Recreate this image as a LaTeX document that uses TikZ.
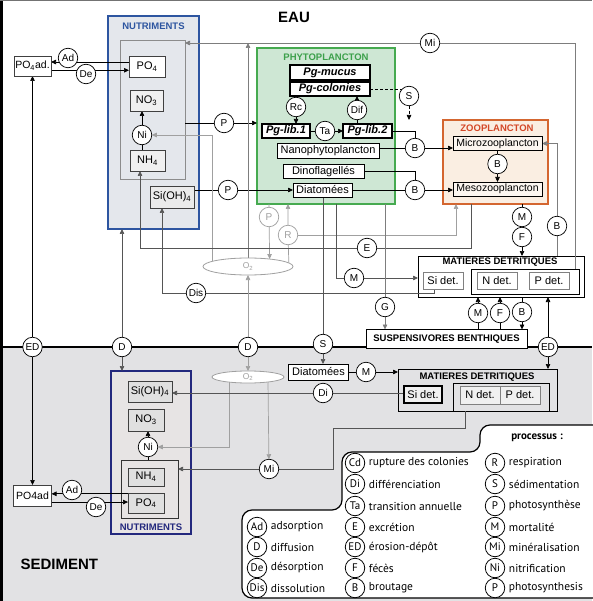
\documentclass[tikz,border=0pt]{standalone}
\usepackage{fontspec}
\setmainfont{Liberation Sans}
\newfontfamily\legfont{PT Sans}
\usepackage{xcolor}
\usepackage{tikz}
\usetikzlibrary{
    shapes.geometric,
    arrows.meta,
    positioning
}
\pgfdeclarelayer{back}
\pgfdeclarelayer{lines}
\pgfsetlayers{back,lines,main}
\definecolor{nutblue}{RGB}{45,85,160}
\definecolor{nutfill}{RGB}{228,231,236}
\definecolor{phygreen}{RGB}{70,170,80}
\definecolor{phyfill}{RGB}{206,231,212}
\definecolor{phytext}{RGB}{60,160,75}
\definecolor{zooorange}{RGB}{212,102,48}
\definecolor{zoofill}{RGB}{250,238,226}
\definecolor{zootext}{RGB}{212,72,40}
\definecolor{sedfill}{RGB}{226,226,228}
\definecolor{sednavy}{RGB}{35,40,125}
\definecolor{sednutfill}{RGB}{231,228,228}
\definecolor{lightline}{RGB}{160,160,160}
\definecolor{midline}{RGB}{125,125,125}
\definecolor{darkline}{RGB}{85,85,85}
\tikzstyle{box} = [
    rectangle, draw=black!75,
    fill=white,
    line width=0.7pt,
    inner sep=0pt,
    outer sep=0pt,
    text centered
]
\tikzstyle{pgbox} = [
    box, draw=black,
    line width=1.2pt,
    font=\fontsize{11}{12}\selectfont\bfseries\itshape
]
\tikzstyle{proc} = [
    circle, draw=black,
    fill=white,
    line width=0.7pt,
    minimum size=19.5pt,
    inner sep=0pt,
    outer sep=0pt,
    font=\fontsize{10}{11}\selectfont
]
\tikzstyle{lightproc} = [
    proc,
    draw=lightline,
    text=lightline
]
\tikzstyle{legproc} = [
    proc,
    line width=0.8pt,
    font=\legfont\fontsize{11}{12}\selectfont
]
\tikzstyle{legtext} = [
    inner sep=0pt,
    font=\legfont\fontsize{11.5}{12}\selectfont
]
\tikzstyle{legitem} = [
    legtext,
    xshift=4pt
]
\tikzstyle{heading} = [
    inner sep=0pt,
    font=\fontsize{9.5}{10}\selectfont\bfseries
]
\tikzstyle{oxy} = [
    ellipse, draw=lightline,
    fill=white,
    line width=0.8pt,
    inner sep=0pt,
    outer sep=0pt,
    text=lightline,
    font=\fontsize{8.5}{9}\selectfont
]
\tikzstyle{arrow} = [
    line width=0.7pt,
    -{Triangle[length=5pt,width=4.5pt]}
]
\tikzstyle{grayarrow} = [arrow, draw=midline]
\tikzstyle{lightarrow} = [arrow, draw=lightline]
\tikzstyle{darkarrow} = [arrow, draw=darkline]

\begin{document}
\begin{tikzpicture}[x=1pt, y=-1pt, font=\fontsize{11}{12}\selectfont]
    \useasboundingbox (0,0) rectangle (592,601);
    \begin{pgfonlayer}{back}
    \fill[white] (0,0) rectangle (592,347);
    \fill[sedfill] (0,347) rectangle (592,601);
    \draw[line width=2.2pt] (0,347) -- (592,347);
    \draw[line width=3pt] (1.5,0) -- (1.5,601);
    \draw[black!55, line width=1.2pt] (0,0.6) -- (592,0.6);
    \node[box, draw=nutblue, fill=nutfill, line width=1.3pt, minimum width=91, minimum height=213] (nutw) at (153.5,122.5) {};
    \node[box, draw=black!45, fill=nutfill, minimum width=65, minimum height=139] (nutin) at (152.5,109.5) {};
    \node[box, draw=phygreen, fill=phyfill, line width=1.3pt, minimum width=138, minimum height=156] (phyto) at (326,126) {};
    \node[box, draw=zooorange, fill=zoofill, line width=1.3pt, minimum width=105, minimum height=84] (zoo) at (495.5,162) {};
    \node[box, draw=black, line width=1pt, minimum width=166, minimum height=41] (md) at (501,276.5) {};
    \node[box, draw=black, line width=1pt, minimum width=108, minimum height=25] (npbox) at (525,281.5) {};
    \node[box, draw=sednavy, fill=sednutfill, line width=1.3pt, minimum width=80, minimum height=163] (nuts) at (151,452.5) {};
    \node[box, draw=black!80, fill=sednutfill, line width=1pt, minimum width=57, minimum height=58] (nhpo) at (149.5,489) {};
    \node[box, draw=black, fill=sedfill, line width=1pt, minimum width=159, minimum height=42] (mds) at (477.5,390) {};
    \node[box, draw=black, fill=sedfill, line width=1pt, minimum width=96, minimum height=28] (npboxs) at (501,397) {};
    \end{pgfonlayer}

    \node[font=\fontsize{15}{16}\selectfont\bfseries] (eau) at (294,17) {EAU};
    \node[font=\fontsize{15}{16}\selectfont\bfseries, anchor=west] (sed) at (17,564) {SEDIMENT};

    \node[heading, text=nutblue] (nutwtitle) at (153.5,26.5) {NUTRIMENTS};
    \node[box, minimum width=36, minimum height=21] (po4w) at (147,66.5) {PO\textsubscript{4}};
    \node[box, fill=black!6, minimum width=33, minimum height=21] (no3w) at (146.5,100.5) {NO\textsubscript{3}};
    \node[proc] (niw) at (142,135) {Ni};
    \node[box, fill=black!6, minimum width=35, minimum height=21] (nh4w) at (147.5,160.5) {NH\textsubscript{4}};
    \node[box, fill=black!8, minimum width=44, minimum height=22] (sihw) at (172,197) {Si(OH)\textsubscript{4}};
    \node[box, font=\fontsize{10.5}{11}\selectfont, minimum width=37, minimum height=20] (po4adw) at (32.5,66) {PO\textsubscript{4}ad.};
    \node[proc] (adw) at (68,58) {Ad};
    \node[proc] (dew) at (86,74) {De};
    \node[proc] (pnh) at (224,123) {P};
    \node[proc] (psi) at (228,190) {P};

    \node[heading, text=phytext] (phytotitle) at (326,57) {PHYTOPLANCTON};
    \node[pgbox, minimum width=80, minimum height=15] (mucus) at (330,72.5) {Pg-mucus};
    \node[pgbox, minimum width=80, minimum height=14] (colonies) at (330,89) {Pg-colonies};
    \node[proc] (rc) at (296,107) {Rc};
    \node[proc] (dif) at (357,110) {Dif};
    \node[pgbox, minimum width=48, minimum height=14] (pglib1) at (286,131) {Pg-lib.1};
    \node[proc] (ta) at (325,131) {Ta};
    \node[pgbox, minimum width=49, minimum height=14] (pglib2) at (367.5,131) {Pg-lib.2};
    \node[box, draw=black, line width=0.9pt, minimum width=102, minimum height=15] (nano) at (328,151) {Nanophytoplancton};
    \node[box, draw=black, line width=0.9pt, minimum width=81, minimum height=14] (dino) at (323.5,171.5) {Dinoflagellés};
    \node[box, draw=black, line width=0.9pt, minimum width=59, minimum height=14] (diat) at (322.5,190) {Diatomées};
    \node[proc] (s1) at (409,96) {S};
    \coordinate (sfall) at (409,120);
    \node[proc] (bnano) at (415,148) {B};
    \node[proc] (bdiat) at (415,190) {B};

    \node[heading, text=zootext] (zootitle) at (497,128.5) {ZOOPLANCTON};
    \node[box, draw=black, line width=0.9pt, fill=zoofill!50, font=\fontsize{10.5}{11}\selectfont, minimum width=89, minimum height=14] (micro) at (497.5,143.5) {Microzooplancton};
    \node[proc] (bzoo) at (497.5,164) {B};
    \node[box, draw=black, line width=0.9pt, fill=zoofill!50, font=\fontsize{10.5}{11}\selectfont, minimum width=89, minimum height=14] (meso) at (497.5,189) {Mesozooplancton};
    \node[proc] (mzoo) at (522,217) {M};
    \node[proc] (fzoo) at (522,237) {F};
    \node[proc] (bmicro) at (557,226) {B};
    \node[proc] (mi1) at (430,43) {Mi};

    \node[oxy, minimum width=90, minimum height=17] (o2w) at (248,266.5) {O\textsubscript{2}};
    \node[lightproc] (pgray) at (269,217) {P};
    \node[lightproc] (rgray) at (288,235) {R};
    \node[proc] (e1) at (367,248) {E};
    \node[proc] (m3) at (354,278) {M};
    \node[proc] (g1) at (385,307) {G};
    \node[proc] (dis) at (196,293) {Dis};

    \node[heading] (mdtitle) at (500,262.5) {MATIERES DETRITIQUES};
    \node[box, draw=black!50, minimum width=40, minimum height=17] (sidet) at (443,281) {Si det.};
    \node[box, draw=black!50, minimum width=40, minimum height=17] (ndet) at (497,281) {N det.};
    \node[box, draw=black!50, minimum width=40, minimum height=17] (pdet) at (549,281) {P det.};
    \node[box, draw=black, line width=1pt, font=\fontsize{9.5}{10}\selectfont\bfseries, minimum width=161, minimum height=19] (susp) at (446.5,339) {SUSPENSIVORES BENTHIQUES};
    \node[proc] (msusp) at (478,313) {M};
    \node[proc] (fsusp) at (500,313) {F};
    \node[proc] (bsusp) at (522,312) {B};

    \node[proc] (ed1) at (32.5,347) {ED};
    \node[proc] (d1) at (122,347) {D};
    \node[proc] (d2) at (248,347) {D};
    \node[proc] (s2) at (323,344) {S};
    \node[proc] (ed2) at (548,347) {ED};

    \node[box, font=\fontsize{10.5}{11}\selectfont, minimum width=38, minimum height=21] (po4ads) at (32.5,495.5) {PO4ad};
    \node[proc] (ads) at (72,490) {Ad};
    \node[proc] (des) at (96,507) {De};
    \node[heading, text=sednavy] (nutstitle) at (151,527) {NUTRIMENTS};
    \node[box, fill=black!12, minimum width=44, minimum height=21] (sihs) at (150,391.5) {Si(OH)\textsubscript{4}};
    \node[box, fill=black!12, minimum width=36, minimum height=22] (no3s) at (146,420) {NO\textsubscript{3}};
    \node[proc] (nis) at (148,447) {Ni};
    \node[box, fill=black!12, minimum width=36, minimum height=18] (nh4s) at (146,477) {NH\textsubscript{4}};
    \node[box, fill=black!12, minimum width=36, minimum height=20] (po4s) at (146,503) {PO\textsubscript{4}};
    \node[oxy, minimum width=72, minimum height=12] (o2s) at (248,377) {O\textsubscript{2}};
    \node[proc] (mis) at (269,469) {Mi};
    \coordinate (mibend) at (333,428);
    \node[proc] (di) at (323,393) {Di};
    \node[box, draw=black, line width=0.9pt, minimum width=60, minimum height=16] (diats) at (318.5,372) {Diatomées};
    \node[proc] (msed) at (366,372) {M};
    \node[heading] (mdstitle) at (477,377.5) {MATIERES DETRITIQUES};
    \node[box, draw=black, line width=1.2pt, fill=black!6, minimum width=38, minimum height=17] (sidets) at (423,394.5) {Si det.};
    \node[box, draw=black!50, fill=black!6, minimum width=40, minimum height=18] (ndets) at (480,395) {N det.};
    \node[box, draw=black!50, fill=black!6, minimum width=40, minimum height=18] (pdets) at (520,395) {P det.};

    \begin{pgfonlayer}{lines}
    \draw[arrow] (po4w.166) -- (po4w.166 -| po4adw.east);
    \draw[arrow] (po4adw.347.8) -- (po4adw.347.8 -| po4w.west);
    \draw (nh4w.north -| niw) -- (niw);
    \draw[arrow] (niw) -- (no3w.south -| niw);
    \draw[arrow] (nutin.east |- pnh) -- (pnh) -- (phyto.west |- pnh);
    \draw[arrow] (sihw.east |- psi) -- (psi) -- (diat.west |- psi);
    \draw[arrow] (colonies.south -| rc) -- (rc) -- (pglib1.north -| rc);
    \draw[arrow] (pglib2.north -| dif) -- (dif) -- (colonies.south -| dif);
    \draw[arrow] (pglib1) -- (ta) -- (pglib2);
    \draw[dash pattern=on 3pt off 2pt] (colonies.east) -- (colonies.east -| s1);
    \draw[dash pattern=on 3pt off 2pt, arrow] (s1) -- (sfall);
    \draw (pglib2.east) -| (bnano);
    \draw[arrow] (nano.east |- bnano) -- (bnano) -- (micro.west |- bnano);
    \draw (dino.east) -| (bdiat);
    \draw[arrow] (diat) -- (bdiat) -- (meso.west |- bdiat);
    \draw[arrow] (micro) -- (bzoo) -- (meso);
    \draw[arrow] (zoo.south -| mzoo) -- (mzoo) -- (fzoo) -- (md.north -| fzoo);
    \draw[grayarrow] (md.north -| bmicro) -- (bmicro) |- (micro.east);
    \draw[grayarrow] ([xshift=-4pt]npbox.north east) |- (mi1) -- (mi1 -| nutin.east);
    \draw[grayarrow] (o2w.north) -- (o2w.north |- mi1);
    \draw[lightarrow] (o2w.172.5) |- (niw);
    \draw[lightarrow] ([xshift=-57pt]phyto.south) -- (pgray) -- (o2w.19.7);
    \draw[lightarrow] (o2w.5.6) -- (rgray) -- (rgray |- phyto.south);
    \draw[lightarrow] (rgray) -| ([xshift=-39.5pt]zoo.south);
    \draw[darkarrow] ([xshift=-24.5pt]zoo.south) |- (e1) -| ([xshift=-7.5pt]nh4w.south);
    \draw[darkarrow] ([xshift=10pt]phyto.south) |- (m3) -- (md.west |- m3);
    \draw[grayarrow] ([xshift=59pt]phyto.south) -- (g1) -- (susp.north -| g1);
    \draw[darkarrow] ([xshift=-9pt]sidet.south) |- (dis) -| ([xshift=-10pt]sihw.south);
    \draw[arrow] (susp.north -| msusp) -- (msusp) -- (md.south -| msusp);
    \draw[arrow] (susp.north -| fsusp) -- (fsusp) -- (md.south -| fsusp);
    \draw[arrow] (md.south -| bsusp) -- (bsusp) -- (susp.north -| bsusp);
    \draw[arrow] (ed1) -- (po4adw);
    \draw[arrow] (ed1) -- (po4ads);
    \draw[darkarrow] (d1) -- (d1 |- nutw.south);
    \draw[darkarrow] (d1) -- (d1 |- nuts.north);
    \draw[lightarrow] (d2) -- (o2w);
    \draw[lightarrow] (d2) -- (o2s);
    \draw[darkarrow] (diat.south -| s2) -- (s2) -- (diats.north -| s2);
    \draw[arrow] (ed2) -- (md.south -| ed2);
    \draw[arrow] (ed2) -- (mds.north -| ed2);
    \draw[arrow] (po4s.153.4) -- (po4s.153.4 -| po4ads.east);
    \draw[arrow] (po4ads.341.1) -- (po4ads.341.1 -| po4s.west);
    \draw (nhpo.north -| nis) -- (nis);
    \draw[arrow] (nis) -- (no3s.south -| nis);
    \draw[lightarrow] (o2s.195) |- (nis);
    \draw[lightarrow] (o2s.346.9) -- (mis);
    \draw[darkarrow] ([xshift=-36pt]npboxs.south) |- (mibend) |- (mis) -- (mis -| nhpo.east);
    \draw[darkarrow] (sidets.west |- di) -- (di) -- (sihs.east |- di);
    \draw[arrow] (diats) -- (msed) -- (mds.west |- msed);
    \end{pgfonlayer}

    \draw[line width=1.2pt, fill=white, rounded corners=10pt] (600,425) -- (480,425) -- (480,452) -- (342,452) -- (342,510) -- (242,510) -- (242,598) -- (600,598);
    \node[legtext, font=\legfont\bfseries\fontsize{11}{12}\selectfont] (legtitle) at (537,438) {processus :};
    \node[legproc, label={[legitem]right:adsorption}] (lgad) at (257,527) {Ad};
    \node[legproc, label={[legitem]right:diffusion}] (lgd) at (257,547) {D};
    \node[legproc, label={[legitem]right:désorption}] (lgde) at (257,568) {De};
    \node[legproc, label={[legitem]right:dissolution}] (lgdis) at (257,588) {Dis};
    \node[legproc, label={[legitem]right:rupture des colonies}] (lgcd) at (355,463) {Cd};
    \node[legproc, label={[legitem]right:différenciation}] (lgdi) at (355,484) {Di};
    \node[legproc, label={[legitem]right:transition annuelle}] (lgta) at (355,506) {Ta};
    \node[legproc, label={[legitem]right:excrétion}] (lge) at (355,527) {E};
    \node[legproc, label={[legitem]right:érosion-dépôt}] (lged) at (355,547) {ED};
    \node[legproc, label={[legitem]right:fécès}] (lgf) at (355,568) {F};
    \node[legproc, label={[legitem]right:broutage}] (lgb) at (355,588) {B};
    \node[legproc, label={[legitem]right:respiration}] (lgr) at (495,463) {R};
    \node[legproc, label={[legitem]right:sédimentation}] (lgs) at (495,484) {S};
    \node[legproc, label={[legitem]right:photosynthèse}] (lgp) at (495,506) {P};
    \node[legproc, label={[legitem]right:mortalité}] (lgm) at (495,527) {M};
    \node[legproc, label={[legitem]right:minéralisation}] (lgmi) at (495,547) {Mi};
    \node[legproc, label={[legitem]right:nitrification}] (lgni) at (495,568) {Ni};
    \node[legproc, label={[legitem]right:photosynthesis}] (lgpe) at (495,588) {P};
\end{tikzpicture}
\end{document}
